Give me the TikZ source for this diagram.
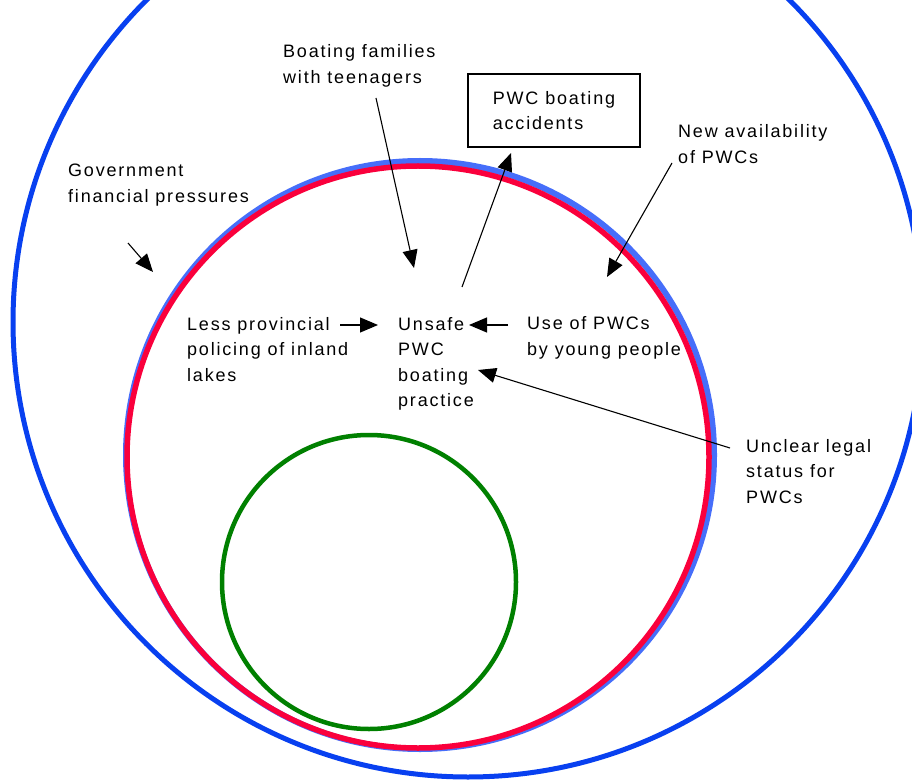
\documentclass[tikz,border=0pt]{standalone}
\usepackage{fontspec}
\setmainfont{Liberation Sans}[LetterSpace=10]
\usetikzlibrary{arrows.meta}
\definecolor{outerblue}{RGB}{8,64,240}
\definecolor{innerblue}{RGB}{70,110,250}
\definecolor{redc}{RGB}{250,0,60}
\definecolor{greenc}{RGB}{0,128,0}
\begin{document}
\begin{tikzpicture}[x=1pt,y=-1pt,
  lbl/.style={anchor=base west, inner sep=0pt, align=left, font=\fontsize{18}{25.5}\selectfont},
  boxlbl/.style={draw, line width=1.2pt, inner sep=0pt, minimum width=172pt, minimum height=73pt, align=left, font=\fontsize{18}{25.5}\selectfont},
  arr/.style={-{Triangle[length=18pt,width=15pt]}, line width=1.1pt},
]
\useasboundingbox (0,0) rectangle (912,783);
\clip (0,0) rectangle (912,783);
\fill[white] (0,0) rectangle (912,783);
% circles
\draw[outerblue, line width=5pt] (468,322) circle[radius=455pt];
\draw[innerblue, line width=6pt] (420,455) circle[radius=294pt];
\draw[redc, line width=5.5pt] (418,457) circle[radius=291pt];
\draw[greenc, line width=4.5pt] (369,582) circle[radius=147pt];
% labels (anchor = baseline of last line)
\node[lbl] (gov) at (68,202.5) {Government\\financial pressures};
\node[lbl] (boat) at (283,83.5) {Boating families\\with teenagers};
\node[boxlbl] (acc) at (554,110.5) {PWC boating\\accidents};
\node[lbl] (new) at (678,163.5) {New availability\\of PWCs};
\node[lbl] (less) at (187,381) {Less provincial\\policing of inland\\lakes};
\node[lbl] (unsafe) at (398,406.5) {Unsafe\\PWC\\boating\\practice};
\node[lbl] (use) at (527,355.5) {Use of PWCs\\by young people};
\node[lbl] (unclear) at (746,503) {Unclear legal\\status for\\PWCs};
% arrow end points
\coordinate (c1s) at (376,98);  \coordinate (c1e) at (414,268);
\coordinate (c2s) at (462,287); \coordinate (c2e) at (511,153);
\coordinate (c3s) at (672,163); \coordinate (c3e) at (607,277);
\coordinate (c4s) at (128,243); \coordinate (c4e) at (153,272);
\coordinate (c5s) at (340,325); \coordinate (c5e) at (378,325);
\coordinate (c6s) at (508,325); \coordinate (c6e) at (469,325);
\coordinate (c7s) at (730,448); \coordinate (c7e) at (478,370);
% arrows
\draw[arr] (c1s) -- (c1e);
\draw[arr] (c2s) -- (c2e);
\draw[arr] (c3s) -- (c3e);
\draw[arr] (c4s) -- (c4e);
\draw[arr] (c5s) -- (c5e);
\draw[arr] (c6s) -- (c6e);
\draw[arr] (c7s) -- (c7e);
\end{tikzpicture}
\end{document}
